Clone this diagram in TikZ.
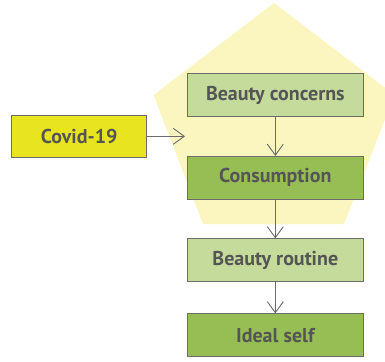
\documentclass[tikz,border=0pt]{standalone}
\usepackage{fontspec}
\setmainfont{PT Sans}
\usetikzlibrary{arrows.meta}

\definecolor{padyellow}{HTML}{FBF6C0}
\definecolor{palegreen}{HTML}{C4DB9B}
\definecolor{deepgreen}{HTML}{97BE55}
\definecolor{covidyellow}{HTML}{E8E520}
\definecolor{edgegray}{HTML}{6B6B6B}
\definecolor{textgray}{HTML}{555555}

\tikzset{
	stagebox/.style={draw=edgegray, line width=1pt, minimum width=176pt, minimum height=42.6pt,
		inner sep=0pt, text=textgray, font=\bfseries\fontsize{20}{24}\selectfont},
	flowarrow/.style={draw=edgegray, line width=.9pt, -{Straight Barb[length=11pt,width=16pt,line width=.9pt]}}
}

\begin{document}
\begin{tikzpicture}[x=1pt,y=-1pt]
	\useasboundingbox (0,0) rectangle (385,361);

	% background pentagon
	\fill[padyellow] (274,3) -- (394.5,95) -- (344,224) -- (203,224) -- (153.5,95) -- cycle;

	\node[stagebox, fill=covidyellow, minimum width=135pt] (covid) at (79.2,136.3) {Covid-19};
	\coordinate (covidtip) at (185,136.3);

	\node[stagebox, fill=palegreen] (concerns) at (275.3,95) {Beauty concerns};
	\node[stagebox, fill=deepgreen] (consumption) at (275.3,177.7) {Consumption};
	\node[stagebox, fill=palegreen] (routine) at (275.3,260.2) {Beauty routine};
	\node[stagebox, fill=deepgreen] (ideal) at (275.3,335.2) {Ideal self};

	\draw[flowarrow] (covid) -- (covidtip);
	\draw[flowarrow] (concerns) -- (consumption);
	\draw[flowarrow] (consumption) -- (routine);
	\draw[flowarrow] (routine) -- (ideal);
\end{tikzpicture}
\end{document}
